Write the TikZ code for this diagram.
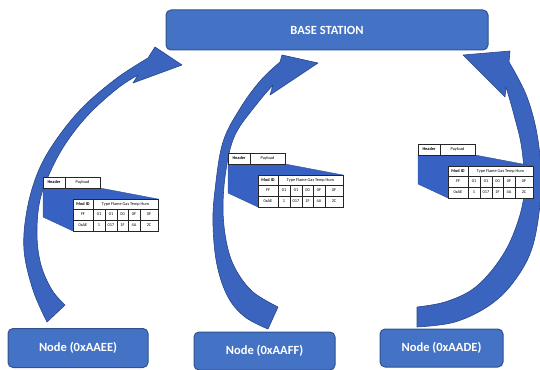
\documentclass[tikz,border=0pt]{standalone}
\usepackage{fontspec}
\setmainfont{Carlito}
\definecolor{boxblue}{RGB}{68,114,196}
\definecolor{boxedge}{RGB}{47,82,143}
\definecolor{arrowblue}{RGB}{58,100,190}
\definecolor{arrowedge}{RGB}{40,70,140}
\definecolor{sideblue}{RGB}{55,98,196}

% one packet drawing: header strip, extruded side and the payload table
\newcommand\packet[2]{%
  \begin{scope}[shift={#1}]
    \filldraw[sidefill] (0,11) -- (57,11) -- (115,22) -- (30,54) -- (0,40) -- cycle;
    \draw[cell] (0,0) rectangle (22,11);
    \draw[cell] (22,0) rectangle (57,11);
    \node[tiny] (#2-hdr) at (11,5.5) {\bfseries Header};
    \node[tiny] (#2-pay) at (39.5,5.5) {Payload};
    \draw[cell] (30,22) rectangle (115,54);
    \draw[thinline] (30,32) -- (115,32) (30,43) -- (115,43) (50,22) -- (50,54);
    \foreach \c in {62,74,85,97} \draw[thinline] (\c,32) -- (\c,54);
    \node[tiny] (#2-id) at (40,27) {\bfseries Mod ID};
    \node[tiny] (#2-type) at (82.5,27) {Type Flame Gas Temp Hum};
    \foreach \x/\t [count=\i] in {40/FF,56/01,68/01,79.5/00,91/0F,106/0F}
      \node[tiny] (#2-a\i) at (\x,37.5) {\t};
    \foreach \x/\t [count=\i] in {40/0xAE,56/1,68/017,79.5/1F,91/4A,106/2C}
      \node[tiny] (#2-b\i) at (\x,48.5) {\t};
  \end{scope}}

\begin{document}
\begin{tikzpicture}[x=1pt,y=-1pt,
  box/.style={draw=boxedge, fill=boxblue, rounded corners=5pt, line width=1pt,
    text=white, font=\bfseries\fontsize{12.5}{14}\selectfont},
  bluearrow/.style={fill=arrowblue, draw=arrowedge, line width=0.6pt, line join=round},
  sidefill/.style={fill=sideblue, draw=boxedge, line width=0.4pt},
  cell/.style={draw=black!85, line width=0.5pt, fill=white},
  thinline/.style={draw=black!85, line width=0.5pt},
  tiny/.style={font=\fontsize{4.3}{5}\selectfont, inner sep=0pt}
]
\useasboundingbox (0,0) rectangle (540,369);
\clip (0,0) rectangle (540,369);

% boxes
\node[box, minimum width=322pt, minimum height=40pt] (bs) at (327,30) {BASE STATION};
\node[box, minimum width=140pt, minimum height=39pt] (n1) at (78,348) {Node (0xAAEE)};
\node[box, minimum width=141pt, minimum height=38pt] (n2) at (264.5,351) {Node (0xAAFF)};
\node[box, minimum width=123pt, minimum height=38pt] (n3) at (441.5,348) {Node (0xAADE)};

% curved arrow from the left node
\filldraw[bluearrow]
  plot[smooth, tension=0.6] coordinates {(47,322) (33,290) (24,250) (27,210) (38,172) (56,140) (83,107) (117,78) (148,58)}
  -- (155,47) -- (182,65) -- (133,83) -- (138,75)
  -- plot[smooth, tension=0.6] coordinates {(138,75) (118,88) (90,113) (68,140) (52,168) (40,200) (37,235) (41,265) (52,290) (65,305)}
  -- cycle;

% curved arrow from the middle node
\filldraw[bluearrow]
  plot[smooth, tension=0.6] coordinates {(268,329) (245,317) (228,297) (217,265) (213,225) (215,190) (223,142) (241,107) (261,80) (280,62)}
  -- (282,55) -- (318,63) -- (270,95) -- (273,85)
  -- plot[smooth, tension=0.6] coordinates {(273,85) (256,105) (235,135) (226,170) (223,210) (227,245) (236,270) (253,292) (278,307)}
  -- cycle;

% curved arrow from the right node
\filldraw[bluearrow]
  plot[smooth, tension=0.6] coordinates {(417,327) (455,322) (490,305) (515,280) (533,245) (541,190) (538,140) (527,97) (509,62)}
  -- (510,51) -- (463,55) -- (505,97) -- (506,87)
  -- plot[smooth, tension=0.6] coordinates {(506,87) (514,115) (522,150) (524,195) (513,235) (496,265) (473,289) (445,302) (417,307)}
  -- cycle;

% packets
\packet{(43,177)}{p1}
\packet{(228,153)}{p2}
\packet{(418,144)}{p3}
\end{tikzpicture}
\end{document}
